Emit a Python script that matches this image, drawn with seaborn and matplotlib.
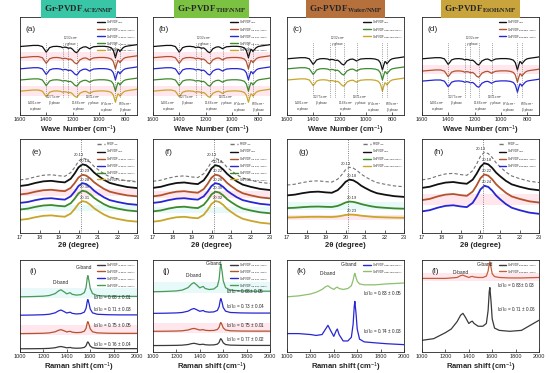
import numpy as np
import seaborn as sns
import matplotlib
matplotlib.use("Agg")
import matplotlib.pyplot as plt

sns.set_theme(style="ticks")
plt.rcParams['font.family'] = ['Liberation Sans', 'DejaVu Sans']
plt.rcParams['mathtext.fontset'] = 'custom'
plt.rcParams['mathtext.rm'] = 'Liberation Sans'
plt.rcParams['mathtext.it'] = 'Liberation Sans:italic'
plt.rcParams['mathtext.bf'] = 'Liberation Sans:bold'

# ---------------- data ----------------
# FTIR base shape (transmittance, stacked units)
ftir_wn = [1600, 1550, 1500, 1460, 1430, 1415, 1401, 1390, 1375, 1350,
           1320, 1290, 1275, 1260, 1245, 1232, 1215, 1200, 1185, 1170,
           1160, 1145, 1120, 1100, 1085, 1071, 1060, 1040, 1000, 960,
           930, 905, 890, 880, 874, 865, 855, 847, 840, 830,
           815, 800, 780, 750, 720, 700]
ftir_tr = [-0.10, -0.05, 0.00, 0.00, -0.10, -0.35, -0.60, -0.45, -0.20, -0.10,
           -0.08, -0.12, -0.20, -0.15, -0.18, -0.25, -0.22, -0.35, -0.55, -0.65,
           -0.55, -0.30, -0.15, -0.12, -0.20, -0.30, -0.22, -0.12, -0.08, -0.08,
           -0.12, -0.22, -0.45, -0.85, -1.10, -0.70, -0.35, -0.40, -0.55, -0.40,
           -0.20, -0.10, -0.05, 0.00, 0.05, 0.10]
ftir_marks = [1401, 1275, 1232, 1166, 1071, 874, 839]
ftir_note_x = [1485, 1340, 1215, 1153, 1045, 940, 800]
ftir_note_y = [-5.4, -4.8, 0.45, -5.4, -4.8, -5.5, -5.5]
ftir_note_txt = ["1401 cm$^{-1}$\nα phase", "1275 cm$^{-1}$\nβ phase",
                 "1232 cm$^{-1}$\nγ phase", "1166 cm$^{-1}$\nα phase",
                 "1071 cm$^{-1}$\nγ phase", "874 cm$^{-1}$\nα phase",
                 "839 cm$^{-1}$\nβ phase"]

ftir_off_a = [0, -1, -2, -3, -4]
ftir_off_c = [-1.1, -2.0, -3.0]
ftir_off_d = [-1.1, -2.2, -3.1]

# XRD base shape
xrd_2theta = [17.0, 17.4, 17.8, 18.2, 18.6, 19.0, 19.3, 19.6, 19.8, 20.0,
              20.2, 20.4, 20.6, 20.8, 21.0, 21.3, 21.6, 22.0, 22.5, 23.0]
xrd_shape = [0.00, 0.01, 0.03, 0.045, 0.05, 0.04, 0.035, 0.07, 0.12, 0.18,
             0.21, 0.20, 0.17, 0.13, 0.10, 0.06, 0.03, 0.01, -0.01, -0.02]
xrd_base_e = [0.565, 0.50, 0.41, 0.32, 0.25, 0.14]
xrd_amp_e = [1.1, 1.1, 1.0, 1.0, 0.95, 0.95]
xrd_peak_e = ["20.13", "20.18", "20.29", "20.28", "20.30", "20.31"]
xrd_base_f = [0.55, 0.48, 0.39, 0.32, 0.23, 0.12]
xrd_amp_f = [1.15, 1.15, 1.1, 1.0, 1.0, 1.05]
xrd_peak_f = ["20.13", "20.18", "20.22", "20.26", "20.30", "20.32"]
xrd_base_g = [0.51, 0.40, 0.265, 0.165]
xrd_amp_g = [0.9, 0.8, 0.33, 0.15]
xrd_peak_g = ["20.13", "20.18", "20.19", "20.23"]
xrd_base_h = [0.565, 0.48, 0.35, 0.23]
xrd_amp_h = [1.4, 1.25, 1.3, 1.3]
xrd_peak_h = ["20.13", "20.18", "20.22", "20.24"]

# Raman base shape (G = 1)
raman_shift = [1000, 1100, 1200, 1250, 1300, 1330, 1350, 1370, 1400, 1420,
               1430, 1445, 1480, 1520, 1550, 1565, 1575, 1580, 1590, 1600,
               1620, 1660, 1750, 1850, 2000]
raman_shape = [0.0, 0.01, 0.03, 0.06, 0.15, 0.28, 0.33, 0.26, 0.14, 0.18,
               0.19, 0.12, 0.08, 0.10, 0.20, 0.45, 0.90, 1.00, 0.75, 0.40,
               0.15, 0.06, 0.03, 0.02, 0.02]
raman_base_i = [0.035, 0.20, 0.40, 0.60]
raman_amp_i = [0.075, 0.13, 0.17, 0.23]
raman_ratio_i = ["0.76 ± 0.04", "0.75 ± 0.05", "0.71 ± 0.03", "0.68 ± 0.01"]
raman_ratio_y_i = [0.08, 0.29, 0.46, 0.59]
raman_base_j = [0.07, 0.225, 0.42, 0.655]
raman_amp_j = [0.075, 0.095, 0.16, 0.30]
raman_ratio_j = ["0.77 ± 0.02", "0.75 ± 0.01", "0.73 ± 0.04", "0.68± 0.05"]
raman_ratio_y_j = [0.13, 0.29, 0.49, 0.66]
raman_k_blue = [0.20, 0.20, 0.19, 0.18, 0.19, 0.25, 0.29, 0.24, 0.17, 0.23,
                0.25, 0.19, 0.12, 0.12, 0.16, 0.30, 0.50, 0.55, 0.42, 0.25,
                0.14, 0.11, 0.10, 0.09, 0.08]
raman_k_green = [0.60, 0.61, 0.63, 0.65, 0.68, 0.71, 0.72, 0.70, 0.68, 0.70,
                 0.705, 0.69, 0.68, 0.69, 0.72, 0.78, 0.84, 0.855, 0.81, 0.77,
                 0.74, 0.73, 0.73, 0.74, 0.75]
raman_l_grey = [0.127, 0.145, 0.21, 0.25, 0.33, 0.40, 0.42, 0.38, 0.31, 0.33,
                0.335, 0.31, 0.28, 0.28, 0.31, 0.45, 0.66, 0.70, 0.55, 0.36,
                0.26, 0.235, 0.225, 0.235, 0.345]
raman_l_brown = [0.80, 0.80, 0.80, 0.805, 0.81, 0.83, 0.835, 0.825, 0.81, 0.82,
                 0.822, 0.815, 0.81, 0.81, 0.825, 0.88, 0.96, 0.98, 0.92, 0.85,
                 0.82, 0.81, 0.805, 0.805, 0.81]

BLACK, BROWN, BLUE, GREEN, GOLD = "#111111", "#b3532e", "#2626d6", "#3d8a2c", "#c8a62a"
RGREEN, LGREEN, GREY = "#4a9a5a", "#8cc06e", "#3a3a3a"

def sub(name, s):
    return name + r"$_{\mathrm{" + s.replace(" ", r"\ ").replace("%", r"\%") + "}}$"

lab_ace = [sub("Gr-PVDF", "NMP")] + [sub("Gr-PVDF", "ACE/NMP (%dwt%%)" % v) for v in (10, 20, 30, 40)]
lab_thf = [sub("Gr-PVDF", "NMP")] + [sub("Gr-PVDF", "THF/NMP (%dwt%%)" % v) for v in (10, 20, 30, 40)]
lab_wat = [sub("Gr-PVDF", "NMP")] + [sub("Gr-PVDF", "Water/NMP (%dwt%%)" % v) for v in (10, 20)]
lab_eth = [sub("Gr-PVDF", "NMP")] + [sub("Gr-PVDF", "EtOH/NMP (%dwt%%)" % v) for v in (10, 20)]
raw_lab = sub("PVDF", "raw")

# ---------------- layout ----------------
fig = plt.figure(figsize=(5.5, 3.73), dpi=100)
lefts = [20, 153, 287, 422]
W = 117
rows = [(17, 115), (139, 233), (260, 352)]


def make_ax(col, row):
    top, bot = rows[row]
    ax = fig.add_axes([lefts[col] / 550, 1 - bot / 373, W / 550, (bot - top) / 373])
    for s in ax.spines.values():
        s.set_linewidth(0.6)
        s.set_color("#222222")
    ax.tick_params(axis="x", direction="in", length=2, width=0.5, labelsize=4, pad=1.5)
    ax.set_yticks([])
    return ax


def finish(ax, letter, xlabel, ylabel, lx=0.05, ly=0.86):
    ax.text(lx, ly, letter, transform=ax.transAxes, fontsize=6)
    ax.set_xlabel(xlabel, fontsize=5.5, fontweight="bold", labelpad=1.5)
    ax.set_ylabel(ylabel, fontsize=5.5, fontweight="bold", labelpad=2)
    leg = ax.legend(loc="upper right", frameon=False, fontsize=2.0, handlelength=2.8,
                    labelspacing=0.0, handletextpad=0.4, borderaxespad=0.25,
                    borderpad=0.2)
    for h in leg.get_lines():
        h.set_linewidth(1.0)


def ftir_panel(ax, offsets, colors, labels, letter, bands=()):
    for y0, y1, c in bands:
        ax.axhspan(y0, y1, color=c, alpha=0.18, lw=0)
    for off, c, lab in zip(offsets, colors, labels):
        sns.lineplot(x=ftir_wn, y=np.array(ftir_tr) + off, color=c, lw=0.9,
                     ax=ax, label=lab, sort=False)
    ax.set_xlim(1600, 710)
    ax.set_ylim(-6.24, 2.55)
    ax.set_xticks([1600, 1400, 1200, 1000, 800])
    ax.vlines(ftir_marks, -4.6, 0.3, colors="0.35", linestyles=":", lw=0.5)
    for x, y, t in zip(ftir_note_x, ftir_note_y, ftir_note_txt):
        ax.text(x, y, t, fontsize=2.2, ha="center", va="center", color="#333333",
                linespacing=1.0)
    finish(ax, letter, r"Wave Number (cm$^{-1}$)", "Transmittance (a.u.)")


def xrd_panel(ax, bases, amps, peaks, colors, labels, letter, bands=()):
    for y0, y1, c in bands:
        ax.axhspan(y0, y1, color=c, alpha=0.18, lw=0)
    shape = np.array(xrd_shape)
    sns.lineplot(x=xrd_2theta, y=shape * amps[0] + bases[0], color="0.45", lw=0.8,
                 dashes=False, linestyle=(0, (3, 2)), ax=ax, label=raw_lab, sort=False)
    for b, a, c, lab in zip(bases[1:], amps[1:], colors, labels):
        sns.lineplot(x=xrd_2theta, y=shape * a + b, color=c, lw=1.3, ax=ax,
                     label=lab, sort=False)
    for i, (b, a, p) in enumerate(zip(bases, amps, peaks)):
        ax.text(20.0 if i == 0 else 20.35, b + 0.21 * a + 0.025, p, fontsize=3,
                ha="center", color="#333333")
    ax.axvline(20.13, color="0.35", ls=":", lw=0.6)
    ax.set_xlim(17, 23)
    ax.set_ylim(0, 1)
    ax.set_xticks(range(17, 24))
    finish(ax, letter, "2θ (degree)", "Intensity (a.u)", lx=0.1, ly=0.84)


def raman_text(ax, dx, dy, gx, gy):
    ax.text(dx, dy, "D-band", fontsize=3.5, ha="center")
    ax.text(gx, gy, "G-band", fontsize=3.5, ha="center")


def ratio(ax, x, y, val):
    ax.text(x, y, r"I$_D$/I$_G$ = " + val, fontsize=3.3, color="#222222", va="center")


def raman_axes(ax, letter):
    ax.set_xlim(1000, 2000)
    ax.set_ylim(0, 1)
    ax.set_xticks(range(1000, 2001, 200))
    finish(ax, letter, r"Raman shift (cm$^{-1}$)", "Intensity (a.u)", lx=0.08, ly=0.86)


# ---- row 1: FTIR ----
ax = make_ax(0, 0)
ftir_panel(ax, ftir_off_a, [BLACK, BROWN, BLUE, GREEN, GOLD], lab_ace, "(a)",
           bands=[(-1.4, -0.6, "#ff7fa0"), (-4.5, -3.6, "#ff7fa0")])
ax = make_ax(1, 0)
ftir_panel(ax, ftir_off_a, [BLACK, BROWN, BLUE, GREEN, GOLD], lab_thf, "(b)",
           bands=[(-1.4, -0.6, "#ff7fa0"), (-4.5, -3.6, "#ff7fa0")])
ax = make_ax(2, 0)
ftir_panel(ax, ftir_off_c, [BLACK, GREEN, GOLD], lab_wat, "(c)")
ax = make_ax(3, 0)
ftir_panel(ax, ftir_off_d, [BLACK, BROWN, BLUE], lab_eth, "(d)",
           bands=[(-2.6, -1.8, "#ff7fa0")])

# ---- row 2: XRD ----
ax = make_ax(0, 1)
xrd_panel(ax, xrd_base_e, xrd_amp_e, xrd_peak_e, [BLACK, BROWN, BLUE, GREEN, GOLD],
          lab_ace, "(e)", bands=[(0.39, 0.47, "#ff7fa0"), (0.23, 0.30, "#7fe0e0")])
ax = make_ax(1, 1)
xrd_panel(ax, xrd_base_f, xrd_amp_f, xrd_peak_f, [BLACK, BROWN, BLUE, GREEN, GOLD],
          lab_thf, "(f)", bands=[(0.37, 0.45, "#ff7fa0"), (0.21, 0.28, "#7fe0e0")])
ax = make_ax(2, 1)
xrd_panel(ax, xrd_base_g, xrd_amp_g, xrd_peak_g, [BLACK, GREEN, GOLD],
          lab_wat, "(g)", bands=[(0.24, 0.33, "#7fe0e0"), (0.14, 0.19, "#ff7fa0")])
ax = make_ax(3, 1)
xrd_panel(ax, xrd_base_h, xrd_amp_h, xrd_peak_h, [BLACK, BROWN, BLUE],
          lab_eth, "(h)", bands=[(0.30, 0.42, "#ff7fa0")])

# ---- row 3: Raman ----
shape = np.array(raman_shape)
ax = make_ax(0, 2)
ax.axhspan(0.59, 0.70, color="#7fe0e0", alpha=0.18, lw=0)
ax.axhspan(0.19, 0.29, color="#ff7fa0", alpha=0.18, lw=0)
for b, a, c, lab, r, ry in zip(raman_base_i, raman_amp_i, [GREY, BROWN, BLUE, RGREEN],
                               lab_ace[1:], raman_ratio_i, raman_ratio_y_i):
    sns.lineplot(x=raman_shift, y=shape * a + b, color=c, lw=0.9, ax=ax, label=lab, sort=False)
    ratio(ax, 1620, ry, r)
raman_text(ax, 1350, 0.74, 1545, 0.9)
raman_axes(ax, "(i)")

ax = make_ax(1, 2)
ax.axhspan(0.64, 0.76, color="#7fe0e0", alpha=0.18, lw=0)
ax.axhspan(0.21, 0.31, color="#ff7fa0", alpha=0.18, lw=0)
for b, a, c, lab, r, ry in zip(raman_base_j, raman_amp_j, [GREY, BROWN, BLUE, RGREEN],
                               lab_thf[1:], raman_ratio_j, raman_ratio_y_j):
    sns.lineplot(x=raman_shift, y=shape * a + b, color=c, lw=0.9, ax=ax, label=lab, sort=False)
    ratio(ax, 1625, ry, r)
raman_text(ax, 1350, 0.82, 1525, 0.95)
raman_axes(ax, "(j)")

ax = make_ax(2, 2)
sns.lineplot(x=raman_shift, y=raman_k_blue, color=BLUE, lw=0.9, ax=ax, label=lab_wat[1], sort=False)
sns.lineplot(x=raman_shift, y=raman_k_green, color=LGREEN, lw=0.9, ax=ax, label=lab_wat[2], sort=False)
ratio(ax, 1650, 0.63, "0.83 ± 0.05")
ratio(ax, 1650, 0.22, "0.74 ± 0.03")
raman_text(ax, 1350, 0.84, 1528, 0.93)
raman_axes(ax, "(k)")

ax = make_ax(3, 2)
ax.axhspan(0.77, 0.86, color="#ff7fa0", alpha=0.18, lw=0)
sns.lineplot(x=raman_shift, y=raman_l_grey, color=GREY, lw=0.9, ax=ax, label=lab_eth[1], sort=False)
sns.lineplot(x=raman_shift, y=raman_l_brown, color="#c0603a", lw=0.9, ax=ax, label=lab_eth[2], sort=False)
ratio(ax, 1640, 0.72, "0.83± 0.03")
ratio(ax, 1640, 0.46, "0.71 ± 0.06")
raman_text(ax, 1330, 0.85, 1540, 0.935)
raman_axes(ax, "(l)")

# ---- coloured titles ----
titles = ["ACE/NMP", "THF/NMP", "Water/NMP", "EtOH/NMP"]
box_colors = ["#38c6a6", "#7cc242", "#b5703c", "#c9a43c"]
for col, (t, bc) in enumerate(zip(titles, box_colors)):
    fig.text((lefts[col] + W / 2) / 550, 1 - 9 / 373,
             r"Gr-PVDF$_{\mathbf{" + t + "}}$", ha="center", va="center",
             fontsize=6.5, fontweight="bold", family="Liberation Serif",
             math_fontfamily="stix",
             bbox=dict(boxstyle="square,pad=0.35", fc=bc, ec="none"))

fig.savefig("out.png", dpi=100)
